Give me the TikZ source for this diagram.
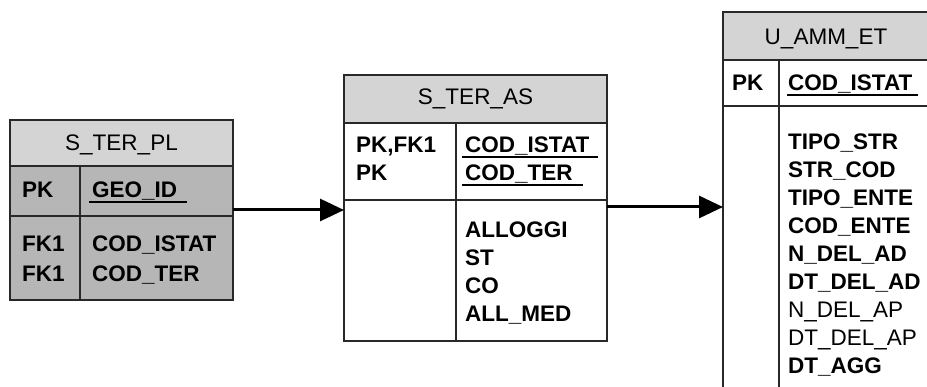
\documentclass[tikz,border=0pt]{standalone}
\usepackage{fontspec}
\setmainfont{Liberation Sans}
\usetikzlibrary{arrows.meta}
\definecolor{hdrgray}{RGB}{212,212,212}
\definecolor{bodygray}{RGB}{182,182,182}
\definecolor{edge}{RGB}{40,40,40}
\begin{document}
\begin{tikzpicture}[x=1pt,y=-1pt,
  tbox/.style={draw=edge, line width=1.6pt, inner sep=0pt, outer sep=0pt, anchor=north west},
  tline/.style={draw=edge, line width=1.6pt},
  txt/.style={anchor=west, inner sep=0pt, text height=16pt, text depth=0pt,
    font=\fontsize{22.5}{27}\selectfont\bfseries},
  txtr/.style={txt, font=\fontsize{22.5}{27}\selectfont},
  hd/.style={inner sep=0pt, text height=16pt, text depth=0pt,
    font=\fontsize{22.5}{27}\selectfont},
  uline/.style={draw=black, line width=2.4pt},
  arr/.style={draw=black, line width=3pt, -{Triangle[length=24pt,width=22pt]}}
]
\useasboundingbox (0,0) rectangle (927,387);
\fill[white] (0,0) rectangle (927,387);

% ---------- S_TER_PL ----------
\fill[bodygray] (10,120) rectangle (233,300);
\fill[hdrgray] (10,120) rectangle (233,166);
\draw[tline] (10,166) -- (233,166);
\draw[tline] (10,216) -- (233,216);
\draw[tline] (80,166) -- (80,300);
\node[tbox, minimum width=223pt, minimum height=180pt] (pl) at (10,120) {};
\node[hd] (plh) at (121.5,143) {S\_TER\_PL};
\node[txt] (plpk) at (22,190) {PK};
\node[txt] (plgeo) at (92,190) {GEO\_ID};
\draw[uline] ([xshift=-3pt,yshift=-4pt]plgeo.south west) -- ([xshift=10pt,yshift=-4pt]plgeo.south east);
\node[txt] (plfk1) at (22,244) {FK1};
\node[txt] (plfk2) at (22,274) {FK1};
\node[txt] (plf1) at (92,244) {COD\_ISTAT};
\node[txt] (plf2) at (92,274) {COD\_TER};

% ---------- S_TER_AS ----------
\fill[hdrgray] (344,75) rectangle (607,123);
\draw[tline] (344,123) -- (607,123);
\draw[tline] (344,200) -- (607,200);
\draw[tline] (456,123) -- (456,341);
\node[tbox, minimum width=263pt, minimum height=266pt] (as) at (344,75) {};
\node[hd] (ash) at (475.5,97) {S\_TER\_AS};
\node[txt] (aspk1) at (356,145) {PK,FK1};
\node[txt] (aspk2) at (356,173) {PK};
\node[txt] (ask1) at (465,145) {COD\_ISTAT};
\node[txt] (ask2) at (465,173) {COD\_TER};
\draw[uline] ([xshift=-3pt,yshift=-4pt]ask1.south west) -- ([xshift=8pt,yshift=-4pt]ask1.south east);
\draw[uline] ([xshift=-3pt,yshift=-4pt]ask2.south west) -- ([xshift=10pt,yshift=-4pt]ask2.south east);
\node[txt] (asf1) at (465,230) {ALLOGGI};
\node[txt] (asf2) at (465,258) {ST};
\node[txt] (asf3) at (465,286) {CO};
\node[txt] (asf4) at (465,314) {ALL\_MED};

% ---------- U_AMM_ET ----------
\fill[hdrgray] (723,12) rectangle (929,60);
\draw[tline] (723,60) -- (929,60);
\draw[tline] (723,106) -- (929,106);
\draw[tline] (779,60) -- (779,400);
\node[tbox, minimum width=206pt, minimum height=390pt] (ue) at (723,12) {};
\node[hd] (ueh) at (826,37) {U\_AMM\_ET};
\node[txt] (uepk) at (732,83) {PK};
\node[txt] (uek) at (788,83) {COD\_ISTAT};
\draw[uline] ([xshift=-1pt,yshift=-4pt]uek.south west) -- ([xshift=5pt,yshift=-4pt]uek.south east);
\node[txt]  (uef1) at (788,142) {TIPO\_STR};
\node[txt]  (uef2) at (788,170) {STR\_COD};
\node[txt]  (uef3) at (788,198) {TIPO\_ENTE};
\node[txt]  (uef4) at (788,226) {COD\_ENTE};
\node[txt]  (uef5) at (788,254) {N\_DEL\_AD};
\node[txt]  (uef6) at (788,282) {DT\_DEL\_AD};
\node[txtr] (uef7) at (788,310) {N\_DEL\_AP};
\node[txtr] (uef8) at (788,338) {DT\_DEL\_AP};
\node[txt]  (uef9) at (788,366) {DT\_AGG};

% ---------- connectors ----------
\draw[arr] (pl.east |- 0,210) -- (as.west |- 0,210);
\draw[arr] (as.east |- 0,207) -- (ue.west |- 0,207);
\end{tikzpicture}
\end{document}
